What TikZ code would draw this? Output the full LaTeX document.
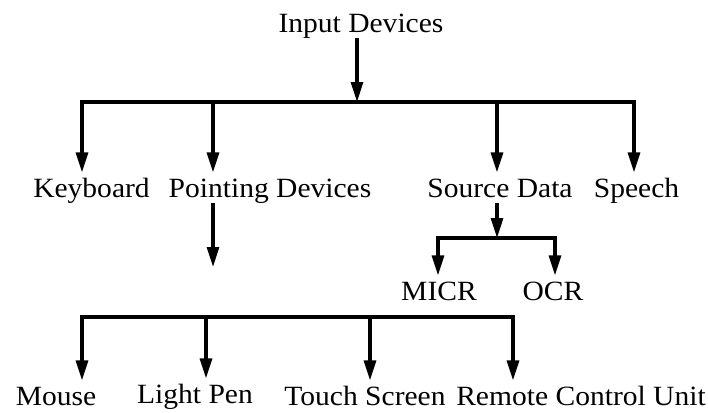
\documentclass[tikz,border=0pt]{standalone}
\usepackage{fontspec}
\setmainfont{Liberation Serif}[FakeStretch=1.06]
\usetikzlibrary{arrows.meta}
\begin{document}
\begin{tikzpicture}[line cap=butt,line join=miter,>={Triangle[length=15pt,width=9pt]},x=0.75pt,y=-0.75pt,
  lbl/.style={anchor=base,inner xsep=0pt,inner ysep=4.5pt,text height=13.8pt,text depth=0pt,font=\fontsize{20.9}{24}\selectfont},
  conn/.style={line width=2.4pt}]
	\useasboundingbox (0,0) rectangle (708,412);
	\node[lbl] (input) at (361,32) {Input Devices};
	\node[lbl] (kbd) at (91.5,197) {Keyboard};
	\node[lbl] (point) at (270,197) {Pointing Devices};
	\node[lbl] (src) at (500,197) {Source Data};
	\node[lbl] (speech) at (636.5,197) {Speech};
	\node[lbl] (micr) at (439,300) {MICR};
	\node[lbl] (ocr) at (553,300) {OCR};
	\node[lbl] (mouse) at (56,405) {Mouse};
	\node[lbl] (pen) at (195,403) {Light Pen};
	\node[lbl] (touch) at (365,405) {Touch Screen};
	\node[lbl] (remote) at (581,405) {Remote Control Unit};
	\coordinate (busA) at (357,102);
	\coordinate (busAw) at (82,102);
	\coordinate (busAe) at (634,102);
	\coordinate (busAp) at (213,102);
	\coordinate (busAs) at (497,102);
	\coordinate (ptend) at (213,267);
	\coordinate (busB) at (497,238);
	\coordinate (busBw) at (438,238);
	\coordinate (busBe) at (555,238);
	\coordinate (busCw) at (82,317);
	\coordinate (busCe) at (513,317);
	\coordinate (busCp) at (206,317);
	\coordinate (busCt) at (370,317);
	\draw[conn,->] (input.south -| busA) -- (busA);
	\draw[conn,<->] (kbd.north -| busAw) -- (busAw) -- (busAe) -- (speech.north -| busAe);
	\draw[conn,->] (busAp) -- (point.north -| busAp);
	\draw[conn,->] (busAs) -- (src.north -| busAs);
	\draw[conn,->] (point.south -| ptend) -- (ptend);
	\draw[conn,->] (src.south -| busB) -- (busB);
	\draw[conn,<->] (micr.north -| busBw) -- (busBw) -- (busBe) -- (ocr.north -| busBe);
	\draw[conn,<->] (mouse.north -| busCw) -- (busCw) -- (busCe) -- (remote.north -| busCe);
	\draw[conn,->] (busCp) -- (pen.north -| busCp);
	\draw[conn,->] (busCt) -- (touch.north -| busCt);
\end{tikzpicture}
\end{document}
